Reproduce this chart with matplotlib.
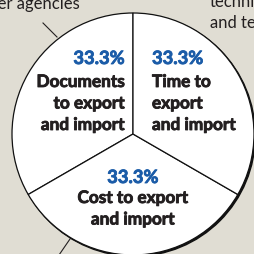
import matplotlib
matplotlib.use("Agg")
from matplotlib import pyplot as plt
from matplotlib.patches import Circle
import matplotlib.patheffects as pe

# shares of the three sub-indicators
labels = [["Documents", "to export", "and import"],
          ["Cost to export", "and import"],
          ["Time to", "export", "and import"]]
shares = [33.3, 33.3, 33.3]

bg = "#e0ddd3"
blue = "#1b5ca8"
ink = "#231f20"
plt.rcParams['font.family'] = ['Lato', 'DejaVu Sans']

fig = plt.figure(figsize=(2.55, 2.55), dpi=100, facecolor=bg)
ax = fig.add_axes([0, 0, 1, 1])
ax.set_facecolor(bg)

cx, cy, r = 133, 120, 121

# drop shadow on the lower right rim
ax.add_patch(Circle((cx + 1.3, cy - 1.3), r, color="#111111", zorder=1))
ax.pie(shares, center=(cx, cy), radius=r, startangle=90, counterclock=True,
       colors=["white"] * 3,
       wedgeprops=dict(edgecolor="#111111", linewidth=0.9, zorder=2),
       frame=True)
ax.set_xlim(0, 255)
ax.set_ylim(0, 255)
ax.set_aspect("equal")
ax.axis("off")

# leader lines to outside labels
ax.plot([43, 57], [255 - 24, 255 - 38], color=ink, lw=0.8, zorder=0)
ax.plot([70, 59], [255 - 240, 255 - 256], color=ink, lw=0.8, zorder=0)

# outside labels, cut by the figure edge like the source
ax.text(80, 255 - 9, "other agencies", ha="right", va="baseline", fontsize=12, color=ink)
ax.text(210, 255 - 7, "technical", ha="left", va="baseline", fontsize=12, color=ink)
ax.text(210, 255 - 28, "and testing", ha="left", va="baseline", fontsize=12, color=ink)

fs = 12.4
heavy = [pe.withStroke(linewidth=0.6, foreground=ink)]
heavy_b = [pe.withStroke(linewidth=0.6, foreground=blue)]
# x, alignment, percent baseline, first line baseline (pixels from top)
pos = [(125, "right", 65, 88), (133, "center", 184, 204), (152, "left", 65, 88)]
for (x, ha, yp, y0), lab, v in zip(pos, labels, shares):
    ax.text(x, 255 - yp, f"{v:.1f}%", ha=ha, va="baseline", fontsize=13.2,
            fontweight="bold", color=blue, zorder=5, path_effects=heavy_b)
    for i, line in enumerate(lab):
        ax.text(x, 255 - y0 - 21.5 * i, line, ha=ha, va="baseline", fontsize=fs,
                fontweight="bold", color=ink, zorder=5, path_effects=heavy)

fig.savefig("out.png", dpi=100, facecolor=bg)
